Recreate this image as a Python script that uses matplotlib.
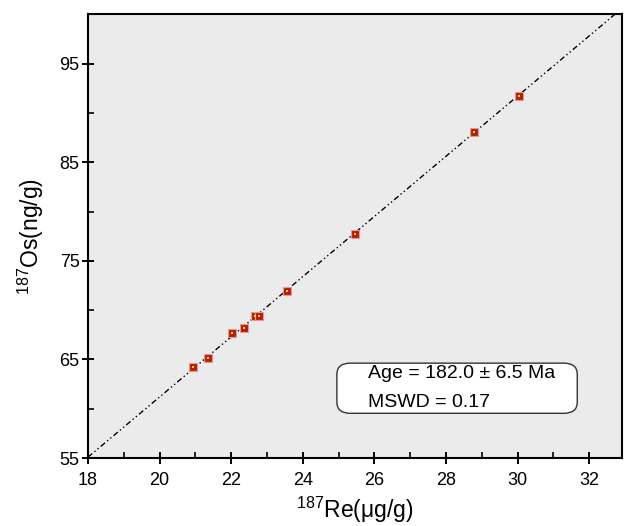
import matplotlib
matplotlib.use("Agg")
import matplotlib.pyplot as plt
from matplotlib.patches import FancyBboxPatch
import numpy as np

# Re-Os isochron data
re187 = [20.94, 21.36, 22.03, 22.37, 22.66, 22.78, 23.56, 25.47, 28.78, 30.03]
os187 = [64.19, 65.20, 67.64, 68.20, 69.42, 69.42, 71.95, 77.70, 88.11, 91.69]

# isochron line
slope = 3.05
intercept = 0.2

x_ticks = [18, 20, 22, 24, 26, 28, 30, 32]
y_ticks = [55, 65, 75, 85, 95]

plt.rcParams['font.family'] = ['Liberation Sans', 'DejaVu Sans']
plt.rcParams['mathtext.default'] = 'regular'

fig = plt.figure(figsize=(6.24, 5.26), dpi=100)
ax = fig.add_axes([0.141, 0.129, 0.856, 0.844])
ax.set_facecolor('#ebebeb')

xs = np.array([18, 33])
ax.plot(xs, slope * xs + intercept, color='black', lw=1.0,
        linestyle=(0, (4, 2, 1, 2, 1, 2)), zorder=2)

ax.plot(re187, os187, 's', ms=6, mfc='#b41e16', mec='#e49a90', mew=0.8, zorder=3)
ax.plot(re187, os187, 's', ms=1.8, mfc='#f7e400', mec='#f7e400', mew=0, zorder=4)

ax.set_xlim(18, 32.92)
ax.set_ylim(55, 100)
ax.set_xticks(x_ticks)
ax.set_yticks(y_ticks)
ax.set_xticks(np.arange(19, 33, 2), minor=True)
ax.set_yticks([60, 70, 80, 90], minor=True)
ax.tick_params(which='major', direction='inout', length=8, width=1.4, labelsize=13)
ax.tick_params(axis='x', which='major', pad=6)
ax.tick_params(axis='y', which='major', pad=2)
ax.tick_params(which='minor', direction='in', length=4, width=1.2)

for s in ax.spines.values():
    s.set_linewidth(1.5)

ax.set_xlabel('$^{187}$Re(μg/g)', fontsize=16.5, labelpad=4)
ax.set_ylabel('$^{187}$Os(ng/g)', fontsize=16.5, labelpad=10)

box = FancyBboxPatch((0.466, 0.101), 0.45, 0.113, transform=ax.transAxes,
                     boxstyle='round,pad=0,rounding_size=0.025',
                     fc='white', ec='#333333', lw=1.0, zorder=5)
ax.add_patch(box)
ax.text(0.524, 0.191, 'Age = 182.0 ± 6.5 Ma', transform=ax.transAxes,
        fontsize=14, va='center', ha='left', zorder=6)
ax.text(0.524, 0.126, 'MSWD = 0.17', transform=ax.transAxes,
        fontsize=14, va='center', ha='left', zorder=6)

fig.savefig('out.png', dpi=100)
